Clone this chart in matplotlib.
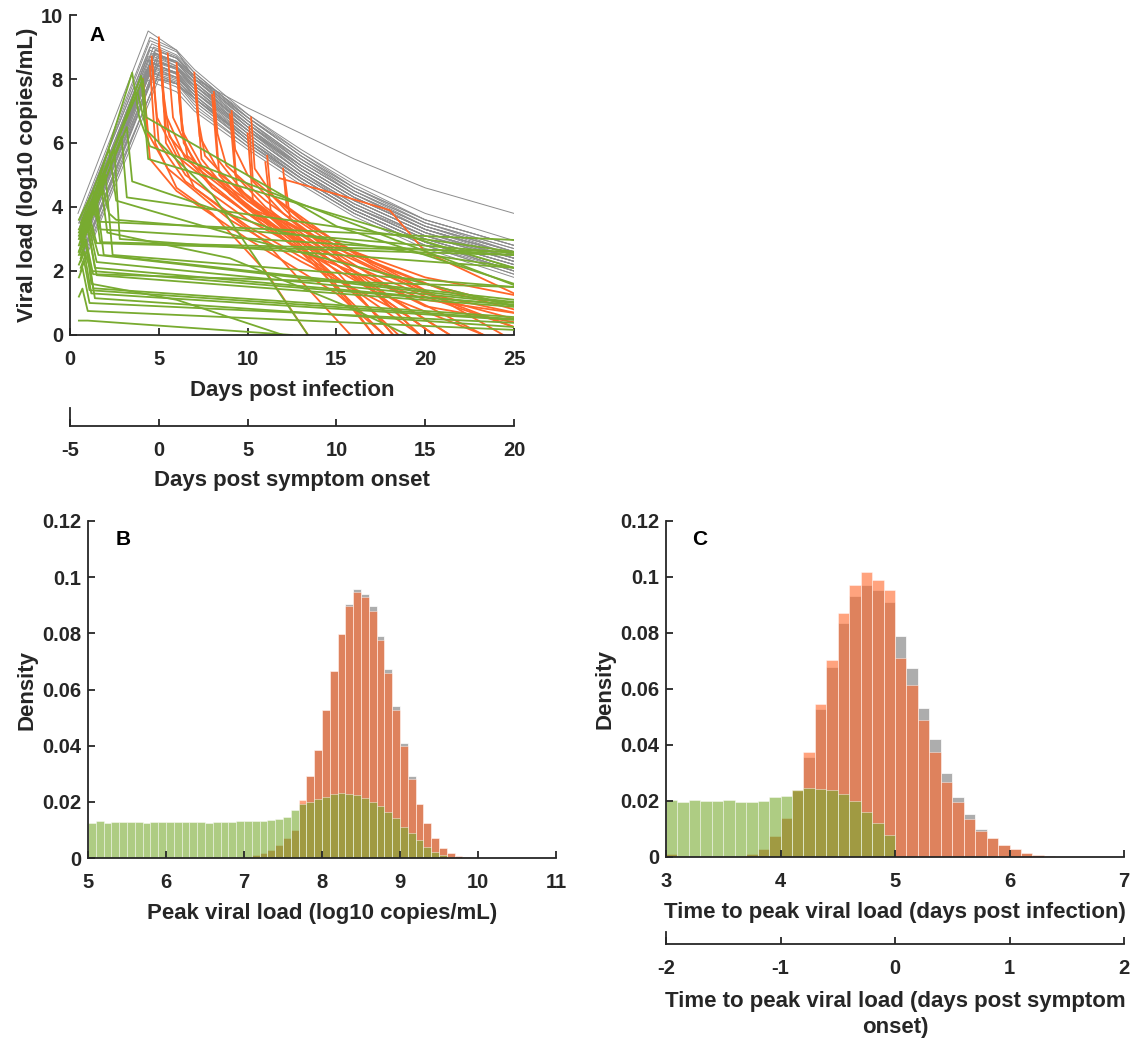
import numpy as np
import matplotlib
matplotlib.use('Agg')
import matplotlib.pyplot as plt

plt.rcParams['font.family'] = ['Liberation Sans', 'DejaVu Sans']
plt.rcParams['font.weight'] = 'bold'
plt.rcParams['axes.labelweight'] = 'bold'
plt.rcParams['axes.unicode_minus'] = False

# ---------------- panel A data ----------------
# untreated trajectories: start, peak, then values on fixed days
gray_days = [6, 7, 10, 13, 16, 20, 25]
gray_x0 = [0.45, 0.5, 0.5, 0.55, 0.6, 0.6, 0.65, 0.7, 0.7, 0.75, 0.5, 0.6, 0.8, 0.65, 0.7, 0.55, 0.8, 0.6, 0.75, 0.5,
           0.7, 0.6, 0.5, 0.7, 0.65, 0.6, 0.8, 0.55, 0.7, 0.6, 0.75, 0.5, 0.65, 0.8, 0.6, 0.7, 0.55, 0.7, 0.6, 0.8]
gray_y0 = [3.8, 3.6, 3.5, 3.4, 3.3, 3.2, 3.1, 3.0, 2.9, 2.8, 3.0, 2.7, 2.6, 2.9, 2.5, 3.2, 2.4, 3.0, 2.7, 3.3,
           2.6, 2.8, 3.1, 3.0, 2.8, 3.4, 2.5, 3.0, 2.9, 3.1, 2.6, 3.5, 3.2, 2.7, 2.9, 3.3, 2.8, 3.0, 3.6, 2.3]
gray_tp = [4.4, 4.5, 4.6, 4.7, 4.5, 4.8, 4.6, 4.7, 4.9, 4.8, 4.4, 4.9, 5.0, 4.6, 4.8, 4.3, 5.0, 4.5, 4.7, 4.2,
           4.9, 4.6, 4.7, 4.5, 4.8, 4.4, 5.1, 4.6, 4.8, 4.4, 5.0, 4.5, 4.6, 4.9, 4.5, 4.3, 4.7, 4.8, 4.5, 5.0]
gray_vp = [9.5, 9.3, 9.1, 9.0, 8.9, 8.9, 8.8, 8.7, 8.7, 8.6, 8.6, 8.5, 8.5, 8.4, 8.3, 8.3, 8.2, 8.2, 8.1, 8.0,
           8.0, 8.4, 8.8, 8.5, 8.8, 8.7, 8.3, 8.6, 8.9, 8.1, 8.7, 9.0, 8.5, 8.4, 8.3, 8.6, 8.2, 8.8, 9.2, 8.0]
gray_vals = [
    [8.9, 8.0, 7.1, 6.3, 5.5, 4.6, 3.8], [8.9, 8.3, 6.9, 5.8, 4.8, 3.8, 2.95], [8.75, 8.2, 6.8, 5.6, 4.6, 3.6, 2.8],
    [8.7, 8.1, 6.7, 5.5, 4.5, 3.5, 2.7], [8.5, 7.9, 6.5, 5.3, 4.3, 3.3, 2.5], [8.65, 8.1, 6.7, 5.4, 4.4, 3.4, 2.6],
    [8.4, 7.8, 6.4, 5.2, 4.2, 3.2, 2.4], [8.4, 7.9, 6.5, 5.2, 4.2, 3.2, 2.3], [8.5, 8.0, 6.6, 5.3, 4.3, 3.3, 2.5],
    [8.3, 7.7, 6.3, 5.1, 4.0, 3.0, 2.2], [8.15, 7.5, 6.1, 4.9, 3.9, 2.9, 2.1], [8.3, 7.8, 6.4, 5.1, 4.1, 3.1, 2.3],
    [8.35, 7.9, 6.5, 5.2, 4.2, 3.2, 2.4], [8.05, 7.5, 6.1, 4.9, 3.9, 2.9, 2.0], [8.05, 7.5, 6.2, 5.0, 4.0, 3.0, 2.2],
    [7.85, 7.2, 5.9, 4.8, 3.8, 2.8, 1.9], [8.05, 7.6, 6.3, 5.1, 4.1, 3.1, 2.3], [7.9, 7.3, 6.0, 4.9, 3.9, 2.9, 2.1],
    [7.85, 7.3, 6.0, 4.8, 3.8, 2.8, 1.9], [7.6, 7.0, 5.8, 4.7, 3.7, 2.7, 1.8], [7.85, 7.4, 6.2, 5.0, 4.0, 3.0, 2.2],
    [8.15, 7.6, 6.3, 5.1, 4.1, 3.1, 2.4], [8.5, 7.9, 6.6, 5.4, 4.4, 3.4, 2.6], [8.2, 7.6, 6.2, 5.0, 4.0, 3.0, 2.2],
    [8.55, 8.0, 6.8, 5.7, 4.7, 3.6, 2.8], [8.35, 7.7, 6.4, 5.3, 4.3, 3.3, 2.5], [8.2, 7.8, 6.5, 5.3, 4.3, 3.3, 2.5],
    [8.35, 7.8, 6.6, 5.5, 4.5, 3.5, 2.7], [8.65, 8.1, 6.9, 5.7, 4.6, 3.5, 2.6], [7.75, 7.1, 5.9, 4.8, 3.8, 2.8, 2.0],
    [8.55, 8.1, 6.8, 5.6, 4.5, 3.4, 2.5], [8.65, 8.0, 6.6, 5.4, 4.4, 3.4, 2.6], [8.2, 7.6, 6.4, 5.3, 4.3, 3.3, 2.4],
    [8.2, 7.7, 6.4, 5.2, 4.2, 3.2, 2.4], [8.0, 7.4, 6.1, 5.0, 4.0, 3.1, 2.3], [8.15, 7.4, 6.0, 4.9, 3.9, 2.9, 2.0],
    [7.95, 7.4, 6.1, 4.9, 3.9, 2.9, 2.1], [8.55, 8.0, 6.7, 5.5, 4.4, 3.3, 2.5], [8.85, 8.2, 6.8, 5.6, 4.6, 3.6, 2.8],
    [7.85, 7.4, 6.1, 4.9, 3.9, 2.9, 2.0]]

# treated after peak (orange), points from treatment onwards
orange_lines = [
    [(4.1, 8.0), (4.4, 6.3), (5.5, 5.2), (9, 3.6), (13, 2.3), (19, 0.6), (20.5, 0)],
    [(4.1, 7.9), (4.5, 5.5), (6, 4.5), (10, 3.0), (15, 1.3), (17.7, 0)],
    [(4.6, 8.7), (4.9, 6.8), (6, 5.6), (10, 3.8), (15, 2.4), (20, 1.2), (25, 0.25)],
    [(4.6, 8.6), (5.0, 6.0), (6.5, 4.8), (10, 3.4), (15, 1.8), (19.7, 0)],
    [(4.5, 8.4), (4.8, 6.0), (6, 4.6), (8, 3.8), (11, 2.0), (13.4, 0)],
    [(5.0, 9.3), (5.3, 7.0), (6.5, 5.5), (10, 4.0), (15, 2.8), (20, 1.8), (25, 1.25)],
    [(5.0, 9.1), (5.2, 7.8), (5.6, 6.2), (8, 4.6), (12, 3.0), (16, 1.4), (18.2, 0)],
    [(5.1, 8.9), (5.4, 6.5), (7, 4.6), (11, 2.9), (15.8, 0)],
    [(5.1, 8.8), (5.4, 6.0), (6.5, 5.0), (10, 3.6), (14, 2.4), (20, 1.1), (25, 0.69)],
    [(5.5, 8.8), (5.8, 6.8), (7, 5.4), (10, 4.2), (15, 2.7), (20, 1.6), (25, 0.9)],
    [(6.0, 8.5), (6.3, 6.4), (7.5, 5.2), (11, 3.6), (15, 2.2), (21.4, 0)],
    [(6.0, 8.4), (6.2, 7.0), (6.6, 5.6), (9, 4.5), (13, 2.8), (17.1, 0)],
    [(6.1, 8.2), (6.4, 6.0), (8, 4.6), (12, 3.0), (17, 1.4), (23.3, 0)],
    [(7.0, 8.2), (7.2, 6.8), (7.6, 5.6), (10, 4.2), (14, 2.6), (18, 1.0), (20.5, 0)],
    [(7.0, 8.0), (7.3, 6.2), (8.5, 5.0), (12, 3.5), (16, 2.0), (20, 0.9), (25, 0.4)],
    [(7.1, 7.8), (7.4, 5.5), (9, 4.4), (13, 2.6), (17.7, 0)],
    [(8.1, 7.6), (8.3, 6.3), (8.8, 5.3), (11, 4.2), (15, 2.6), (20, 1.3), (25, 0.7)],
    [(8.0, 7.5), (8.3, 5.5), (10, 4.3), (13, 3.0), (18, 1.0), (20.5, 0)],
    [(8.1, 7.3), (8.4, 5.0), (10, 4.0), (14, 2.3), (17.1, 0)],
    [(9.1, 7.0), (9.3, 5.8), (10, 5.0), (13, 3.6), (17, 2.2), (21, 1.1), (25, 0.5)],
    [(9.0, 6.9), (9.3, 5.0), (11, 4.0), (14, 2.8), (18, 1.2), (21.4, 0)],
    [(9.1, 6.8), (9.4, 4.6), (11, 3.8), (15, 2.0), (18.2, 0)],
    [(10.2, 6.8), (10.4, 5.2), (11.5, 4.3), (15, 2.9), (20, 1.4), (24.4, 0)],
    [(10.1, 6.5), (10.3, 4.8), (12, 3.8), (15, 2.5), (19.7, 0)],
    [(10.0, 6.3), (10.3, 4.2), (12, 3.3), (15, 1.8), (18.5, 0)],
    [(11.1, 5.6), (11.3, 4.4), (12.5, 3.7), (16, 2.4), (20, 1.3), (25, 0.25)],
    [(11.0, 5.4), (11.3, 3.9), (13, 3.0), (17, 1.4), (19.7, 0)],
    [(12.0, 5.2), (12.2, 4.0), (13.5, 3.4), (17, 2.3), (21, 1.4), (25, 0.8)],
    [(12.1, 4.9), (12.4, 3.6), (14, 2.9), (18, 1.5), (23.3, 0)],
    [(11.8, 4.9), (15, 4.4), (18, 3.9), (20, 2.6), (25, 1.3)],
]

# treated before peak (green)
green_lines = [
    [(0.5, 0.45), (1.0, 0.45), (12.5, 0.0)],
    [(0.5, 1.2), (0.7, 1.45), (1.0, 0.75), (25, 0.16)],
    [(0.5, 1.8), (0.7, 2.1), (1.1, 1.0), (25, 0.38)],
    [(0.5, 2.2), (0.8, 2.6), (1.2, 1.3), (25, 0.47)],
    [(0.5, 2.5), (0.9, 3.0), (1.3, 1.46), (25, 0.56)],
    [(0.6, 2.4), (0.9, 2.9), (1.4, 1.15), (25, 0.25)],
    [(0.5, 2.6), (1.0, 3.4), (1.4, 2.1), (25, 0.94)],
    [(0.6, 2.7), (1.0, 3.3), (1.5, 1.87), (25, 0.88)],
    [(0.5, 3.0), (1.0, 3.6), (1.5, 2.28), (25, 1.0)],
    [(0.6, 2.9), (1.1, 3.5), (1.6, 2.5), (25, 1.03)],
    [(0.5, 3.1), (1.1, 3.7), (1.5, 2.87), (25, 2.5)],
    [(0.5, 3.3), (1.2, 4.0), (1.6, 3.54), (25, 2.97)],
    [(0.6, 3.0), (1.5, 4.3), (1.9, 2.5), (25, 1.1)],
    [(0.5, 2.8), (1.7, 4.9), (2.2, 3.8), (2.6, 3.6), (25, 2.56)],
    [(0.7, 3.0), (2.0, 5.0), (2.4, 2.5), (25, 1.5)],
    [(0.6, 3.2), (2.5, 5.8), (2.8, 3.0), (25, 2.1)],
    [(0.7, 2.9), (2.9, 6.2), (3.2, 4.3), (25, 2.6)],
    [(0.7, 3.1), (3.2, 6.5), (3.5, 4.8), (12, 3.2), (25, 2.1)],
    [(0.6, 3.0), (3.5, 8.2), (3.9, 6.8), (4.5, 5.9), (25, 1.56)],
    [(0.7, 3.2), (4.0, 8.1), (4.4, 5.5), (25, 2.1)],
    [(0.6, 2.1), (1.0, 2.7), (1.3, 1.9), (25, 1.5)],
    [(0.6, 3.4), (3.8, 7.6), (4.3, 6.4), (8, 4.4), (13.4, 0.0)],
    [(0.5, 2.6), (1.8, 4.5), (2.1, 3.2), (9, 2.4), (16, 0.8), (19, 0.0)],
    [(0.6, 2.5), (0.9, 2.9), (1.2, 1.6), (6, 1.1), (12, 0.0)],
    [(0.6, 3.5), (2.2, 5.8), (2.6, 4.2), (10, 3.0), (25, 0.9)],
    [(0.5, 3.6), (1.3, 4.5), (1.7, 2.9), (25, 2.6)],
    [(0.6, 2.3), (0.8, 2.6), (1.2, 2.0), (25, 0.94)],
    [(0.6, 3.3), (4.1, 8.0), (4.3, 6.8), (8.4, 5.5), (15, 3.4), (25, 1.6)],
    [(0.5, 3.2), (1.4, 4.3), (1.7, 3.3), (25, 2.5)],
    [(0.6, 2.0), (0.8, 2.3), (1.1, 1.4), (25, 0.5)],
]

# ---------------- panel B / C histograms (bin width 0.1) ----------------
peak_green_start = 5.0
peak_green = [0.0123, 0.0132, 0.0123, 0.0127, 0.0127, 0.0127, 0.0127, 0.0126, 0.0128, 0.0127,
              0.0128, 0.0128, 0.0129, 0.0127, 0.0128, 0.0126, 0.0129, 0.0129, 0.0129, 0.0130,
              0.0131, 0.0131, 0.0133, 0.0135, 0.0138, 0.0145, 0.0171, 0.0191, 0.0200, 0.0210,
              0.0218, 0.0228, 0.0230, 0.0228, 0.0224, 0.0212, 0.0200, 0.0186, 0.0165, 0.0141,
              0.0112, 0.0088, 0.0064, 0.0040, 0.0023, 0.0010, 0.0004]
peak_orange_start = 7.0
peak_orange = [0.0005, 0.0010, 0.0017, 0.0030, 0.0046, 0.0070, 0.0100, 0.0205, 0.0292, 0.0385,
               0.0527, 0.0667, 0.0796, 0.0897, 0.0946, 0.0928, 0.0880, 0.0776, 0.0660, 0.0527,
               0.0399, 0.0280, 0.0192, 0.0123, 0.0070, 0.0037, 0.0017, 0.0008, 0.0003]
peak_gray = [0.0005, 0.0010, 0.0017, 0.0030, 0.0046, 0.0070, 0.0100, 0.0195, 0.0292, 0.0385,
             0.0527, 0.0667, 0.0796, 0.0903, 0.0957, 0.0939, 0.0897, 0.0790, 0.0674, 0.0540,
             0.0410, 0.0292, 0.0192, 0.0123, 0.0070, 0.0037, 0.0017, 0.0008, 0.0003]

time_start = 3.0
time_green = [0.0205, 0.0195, 0.0203, 0.0201, 0.0201, 0.0202, 0.0198, 0.0198, 0.0201, 0.0213,
              0.0219, 0.0241, 0.0245, 0.0244, 0.0239, 0.0224, 0.0199, 0.0159, 0.0122, 0.0080]
time_orange = [0.0010, 0.0, 0.0, 0.0, 0.0, 0.0, 0.0, 0.0010, 0.0030, 0.0074,
               0.0140, 0.0240, 0.0376, 0.0547, 0.0704, 0.0872, 0.0970, 0.1017, 0.0991, 0.0955,
               0.0710, 0.0615, 0.0490, 0.0376, 0.0269, 0.0197, 0.0137, 0.0092, 0.0068, 0.0042,
               0.0027, 0.0016, 0.0007, 0.0003]
time_gray = [0.0010, 0.0, 0.0, 0.0, 0.0, 0.0, 0.0, 0.0010, 0.0030, 0.0074,
             0.0140, 0.0235, 0.0358, 0.0528, 0.0680, 0.0836, 0.0931, 0.0973, 0.0953, 0.0910,
             0.0788, 0.0675, 0.0531, 0.0420, 0.0301, 0.0215, 0.0152, 0.0101, 0.0068, 0.0042,
             0.0027, 0.0016, 0.0007, 0.0003]
bin_w = 0.1

# ---------------- styling ----------------
c_gray_line = (0.55, 0.55, 0.55)
c_orange = (1.0, 0.40, 0.16)
c_green = (0.47, 0.67, 0.19)
c_hist_gray = (0.68, 0.68, 0.68)
dark = '#262626'
tick_fs = 14.5
lab_fs = 16

W, H = 1145, 1039
fig = plt.figure(figsize=(W / 100, H / 100), dpi=100)


def rect(x0, y_top, x1, y_bot):
    return [x0 / W, 1 - y_bot / H, (x1 - x0) / W, (y_bot - y_top) / H]


def style(ax):
    for s in ['top', 'right']:
        ax.spines[s].set_visible(False)
    for s in ['left', 'bottom']:
        ax.spines[s].set_color(dark)
        ax.spines[s].set_linewidth(1.3)
    ax.tick_params(direction='in', length=5, width=1.3, colors=dark, labelsize=tick_fs)
    ax.tick_params(axis='x', pad=11)
    ax.tick_params(axis='y', pad=5)
    for lbl in ax.get_xticklabels() + ax.get_yticklabels():
        lbl.set_fontweight('bold')


def sec_axis(r, lim, ticks, label, pad):
    ax = fig.add_axes(r)
    ax.patch.set_alpha(0)
    ax.set_xlim(lim)
    ax.set_ylim(0, 1)
    ax.set_xticks(ticks)
    ax.set_yticks([])
    style(ax)
    ax.set_xlabel(label, fontsize=lab_fs, color=dark, labelpad=pad, linespacing=1.35)
    return ax


# ----- A -----
axA = fig.add_axes(rect(70, 15, 514, 335))
for i in range(len(gray_x0)):
    xs = [gray_x0[i], gray_tp[i]] + gray_days
    ys = [gray_y0[i], gray_vp[i]] + gray_vals[i]
    axA.plot(xs, ys, color=c_gray_line, lw=0.7)
for ln in orange_lines:
    axA.plot([p[0] for p in ln], [p[1] for p in ln], color=c_orange, lw=1.3)
for ln in green_lines:
    axA.plot([p[0] for p in ln], [p[1] for p in ln], color=c_green, lw=1.3)
axA.set_xlim(0, 25)
axA.set_ylim(0, 10)
axA.set_xticks(range(0, 26, 5))
axA.set_yticks(range(0, 11, 2))
style(axA)
axA.set_xlabel('Days post infection', fontsize=lab_fs, color=dark, labelpad=8)
axA.set_ylabel('Viral load (log10 copies/mL)', fontsize=lab_fs, color=dark, labelpad=2)
axA.text(0.045, 0.9375, 'A', transform=axA.transAxes, fontsize=15, fontweight='bold', va='center')

sec_axis(rect(70, 408, 514, 426), (-5, 20), range(-5, 21, 5), 'Days post symptom onset', 7)

# ----- histograms -----
def hist_panel(ax, series, xlim, xticks, letter):
    for start, vals, col, alpha in series:
        left = start + bin_w * np.arange(len(vals))
        ax.bar(left, vals, width=bin_w, align='edge', color=col, alpha=alpha,
               edgecolor='white', linewidth=0.5)
    ax.set_xlim(xlim)
    ax.set_ylim(0, 0.12)
    ax.set_xticks(xticks)
    yt = [0, 0.02, 0.04, 0.06, 0.08, 0.1, 0.12]
    ax.set_yticks(yt)
    ax.set_yticklabels(['0', '0.02', '0.04', '0.06', '0.08', '0.1', '0.12'])
    style(ax)
    ax.set_ylabel('Density', fontsize=lab_fs, color=dark, labelpad=3)
    ax.text(0.058, 0.944, letter, transform=ax.transAxes, fontsize=15, fontweight='bold', va='center')


axB = fig.add_axes(rect(88, 521, 556, 858))
hist_panel(axB, [(peak_orange_start, peak_gray, c_hist_gray, 1.0),
                 (peak_orange_start, peak_orange, c_orange, 0.6),
                 (peak_green_start, peak_green, c_green, 0.6)],
           (5, 11), range(5, 12), 'B')
axB.set_xlabel('Peak viral load (log10 copies/mL)', fontsize=lab_fs, color=dark, labelpad=8)

axC = fig.add_axes(rect(666, 521, 1124, 857))
hist_panel(axC, [(time_start, time_gray, c_hist_gray, 1.0),
                 (time_start, time_orange, c_orange, 0.6),
                 (time_start, time_green, c_green, 0.6)],
           (3, 7), range(3, 8), 'C')
axC.set_xlabel('Time to peak viral load (days post infection)', fontsize=lab_fs, color=dark, labelpad=8)

sec_axis(rect(666, 932, 1124, 944), (-2, 2), range(-2, 3),
         'Time to peak viral load (days post symptom\nonset)', 9)

fig.savefig('out.png', dpi=100)
